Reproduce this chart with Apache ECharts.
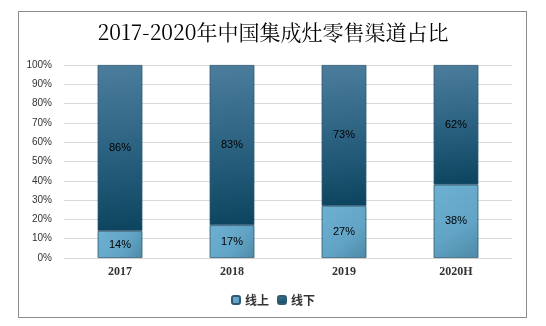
<!DOCTYPE html>
<html><head><meta charset="utf-8">
<script src="https://cdn.jsdelivr.net/npm/echarts@6/dist/echarts.min.js"></script>
<style>html,body{margin:0;padding:0;background:#fff}#c{width:546px;height:326px}
#frame{position:absolute;left:18px;top:11px;width:509px;height:307px;border:1px solid #8c8c8c;box-sizing:border-box;pointer-events:none}</style>
</head><body><div id="c"></div><div id="frame"></div>
<script>
var categories = ['2017', '2018', '2019', '2020H'];
var online = [14, 17, 27, 38];
var offline = [86, 83, 73, 62];
var yTicks = [0, 10, 20, 30, 40, 50, 60, 70, 80, 90, 100];
var seriesNames = ['线上', '线下'];
var chart = echarts.init(document.getElementById('c'), null, {renderer: 'canvas'});
var lightGrad = new echarts.graphic.LinearGradient(0, 0, 1, 1, [
  {offset: 0, color: '#6eb0d2'}, {offset: 0.6, color: '#62a4c6'}, {offset: 1, color: '#4d8aa6'}]);
var darkGrad = new echarts.graphic.LinearGradient(0, 0, 0.3, 1, [
  {offset: 0, color: '#4c7d9c'}, {offset: 0.5, color: '#2d6382'}, {offset: 1, color: '#0d4560'}]);
chart.setOption({
  animation: false,
  title: {text: '2017-2020年中国集成灶零售渠道占比', left: 'center', top: 17,
    textStyle: {fontFamily: 'Noto Serif CJK SC, Liberation Serif, serif', fontSize: 21, fontWeight: 'normal', color: '#000'}},
  legend: {data: seriesNames, bottom: 15, left: 'center', itemWidth: 8, itemHeight: 8, itemGap: 8,
    textStyle: {fontFamily: 'Noto Sans CJK SC', fontSize: 12, fontWeight: 'bold', color: '#333'}},
  grid: {left: 64, right: 34, top: 65, bottom: 68},
  xAxis: {type: 'category', data: categories,
    axisLine: {lineStyle: {color: '#d9d9d9'}}, axisTick: {show: false},
    axisLabel: {fontFamily: 'Liberation Serif', fontWeight: 'bold', fontSize: 12, color: '#333', margin: 8}},
  yAxis: {type: 'value', min: 0, max: 100, interval: 10,
    axisLine: {show: false}, axisTick: {show: false},
    splitLine: {lineStyle: {color: '#d9d9d9'}},
    axisLabel: {formatter: function(v){return yTicks.indexOf(v) >= 0 ? v + '%' : '';}, fontFamily: 'Liberation Sans', fontSize: 10, color: '#333', margin: 12}},
  series: [
    {name: seriesNames[0], type: 'bar', stack: 's', data: online, barWidth: '40%',
      itemStyle: {color: lightGrad, borderColor: '#2f5a72', borderWidth: 0.8},
      label: {show: true, position: 'inside', formatter: '{c}%', fontSize: 11, color: '#000', fontFamily: 'Liberation Sans'}},
    {name: seriesNames[1], type: 'bar', stack: 's', data: offline, barWidth: '40%',
      itemStyle: {color: darkGrad, borderColor: '#2f5a72', borderWidth: 0.8},
      label: {show: true, position: 'inside', formatter: '{c}%', fontSize: 11, color: '#000', fontFamily: 'Liberation Sans'}}
  ]
});
</script></body></html>
